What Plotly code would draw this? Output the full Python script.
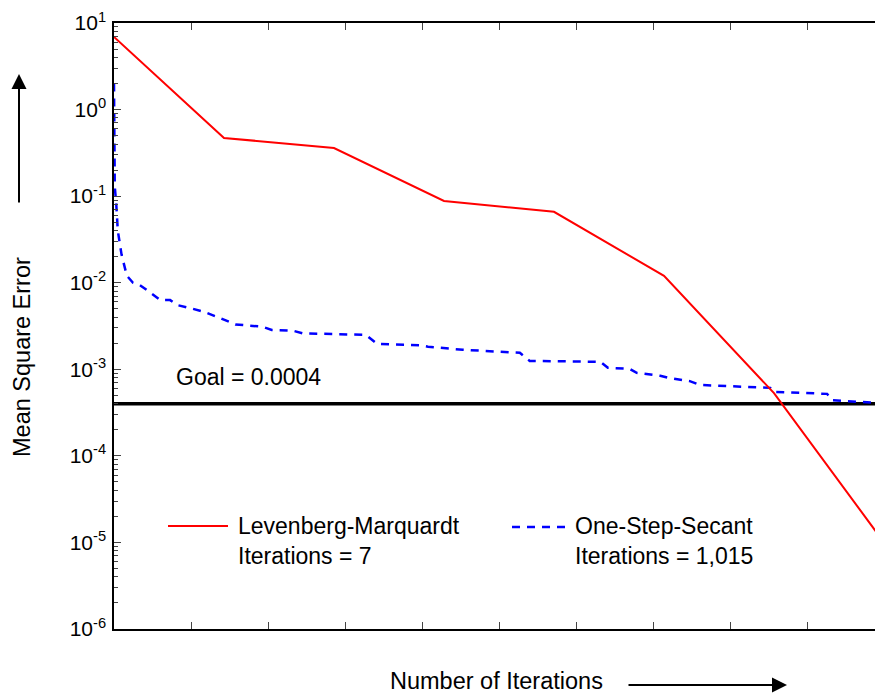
import plotly.graph_objects as go

# ---------------- data ----------------
lm_iter = [0, 1, 2, 3, 4, 5, 6, 7]
lm_mse = [6.9, 0.47, 0.36, 0.088, 0.066, 0.012, 5.3e-4, 1.0e-5]
lm_total = 7

oss_iter = [0, 1, 3, 5, 10, 17, 25, 34, 47, 61, 74, 84, 100, 119, 140, 160,
            196, 208, 235, 249, 332, 347, 403, 414, 447, 460, 535, 548, 641,
            651, 680, 689, 720, 730, 759, 772, 865, 869, 940, 946, 1003, 1015]
oss_mse = [2.0, 0.13, 0.08, 0.04, 0.021, 0.012, 0.0100, 0.0094, 0.0078,
           0.0063, 0.0063, 0.0055, 0.0051, 0.0046, 0.0039, 0.0033,
           0.0031, 0.00285, 0.0028, 0.0026, 0.0025, 0.00196, 0.0019,
           0.00182, 0.00172, 0.00168, 0.00155, 0.00125, 0.00122,
           0.00104, 0.00101, 0.00091, 0.00084, 0.0008, 0.00073, 0.00066,
           0.00061, 0.00055, 0.00052, 0.00044, 0.00041, 0.0004]
oss_total = 1015

goal = 0.0004

y_tickvals = [1e-6, 1e-5, 1e-4, 1e-3, 1e-2, 1e-1, 1e0, 1e1]
y_ticktext = ["10<sup>-6</sup>", "10<sup>-5</sup>", "10<sup>-4</sup>",
              "10<sup>-3</sup>", "10<sup>-2</sup>", "10<sup>-1</sup>",
              "10<sup>0</sup>", "10<sup>1</sup>"]

legend_lm = ["Levenberg-Marquardt", "Iterations = 7"]
legend_oss = ["One-Step-Secant", "Iterations = 1,015"]

# ---------------- layout helpers ----------------
W, H = 875, 698
L, R, T, B = 114, 0, 23, 69
PW, PH = W - L - R, H - T - B
XMAX = PW / 770.0          # one full training run spans 770 px; image is cropped
FONT = "Liberation Sans, Arial, Helvetica, sans-serif"
FS = 23


def px(xp):
    return (xp - L) / PW


def py(yp):
    return (H - B - yp) / PH


fig = go.Figure()

fig.add_trace(go.Scatter(x=[0, 1], y=[goal, goal], mode="lines",
                         line=dict(color="black", width=3.5), showlegend=False))
fig.add_trace(go.Scatter(x=[i / oss_total for i in oss_iter], y=oss_mse, mode="lines",
                         line=dict(color="#0000ff", width=2.5, dash="8px,7px"),
                         showlegend=False))
fig.add_trace(go.Scatter(x=[i / lm_total for i in lm_iter], y=lm_mse, mode="lines",
                         line=dict(color="#ff0000", width=2), showlegend=False))

fig.update_xaxes(range=[0, XMAX], showgrid=False, zeroline=False,
                 showline=True, linecolor="black", linewidth=1.5, mirror="ticks",
                 ticks="inside", ticklen=7, tickcolor="#444", tickwidth=1,
                 tick0=0, dtick=0.1, showticklabels=False)
fig.update_yaxes(type="log", range=[-6, 1], showgrid=False, zeroline=False,
                 showline=True, linecolor="black", linewidth=1.5, mirror=False,
                 ticks="inside", ticklen=7, tickcolor="#444", tickwidth=1,
                 tickvals=y_tickvals, ticktext=y_ticktext,
                 tickfont=dict(family=FONT, size=21, color="black"),
                 ticklabelstandoff=2,
                 minor=dict(ticks="inside", ticklen=4, tickcolor="#444",
                            dtick="D1", showgrid=False))

annotations = [
    dict(text="Goal = 0.0004", x=px(174), y=py(377), xref="paper", yref="paper",
         xanchor="left", yanchor="middle", showarrow=False,
         font=dict(family=FONT, size=FS, color="black")),
    dict(text="<br>".join(legend_lm), x=px(236), y=py(541), xref="paper", yref="paper",
         xanchor="left", yanchor="middle", align="left", showarrow=False,
         font=dict(family=FONT, size=FS, color="black")),
    dict(text="<br>".join(legend_oss), x=px(573), y=py(541), xref="paper", yref="paper",
         xanchor="left", yanchor="middle", align="left", showarrow=False,
         font=dict(family=FONT, size=FS, color="black")),
    dict(text="Mean Square Error", x=px(22), y=py(357), xref="paper", yref="paper",
         xanchor="center", yanchor="middle", textangle=-90, showarrow=False,
         font=dict(family=FONT, size=23.5, color="black")),
    dict(text="Number of Iterations", x=px(496), y=py(681), xref="paper", yref="paper",
         xanchor="center", yanchor="middle", showarrow=False,
         font=dict(family=FONT, size=23.5, color="black")),
    # arrows
    dict(text="", x=px(19), y=py(74), xref="paper", yref="paper",
         ax=0, ay=130, showarrow=True, arrowhead=2, arrowsize=1.5,
         arrowwidth=2, arrowcolor="black", standoff=0),
    dict(text="", x=px(787), y=py(685), xref="paper", yref="paper",
         ax=-160, ay=0, showarrow=True, arrowhead=2, arrowsize=1.5,
         arrowwidth=2, arrowcolor="black", standoff=0),
]

shapes = [
    dict(type="line", xref="paper", yref="paper", x0=px(168), x1=px(228),
         y0=py(526), y1=py(526), line=dict(color="#ff0000", width=2)),
    dict(type="line", xref="paper", yref="paper", x0=px(512), x1=px(568),
         y0=py(527), y1=py(527), line=dict(color="#0000ff", width=2.5, dash="8px,7px")),
]

fig.update_layout(width=W, height=H, margin=dict(l=L, r=R, t=T, b=B),
                  paper_bgcolor="white", plot_bgcolor="white",
                  annotations=annotations, shapes=shapes, showlegend=False,
                  font=dict(family=FONT, color="black"))

fig.write_html("out.html", config={"displayModeBar": False},
               post_script="document.body.style.margin='0px';document.body.style.overflow='hidden';")
